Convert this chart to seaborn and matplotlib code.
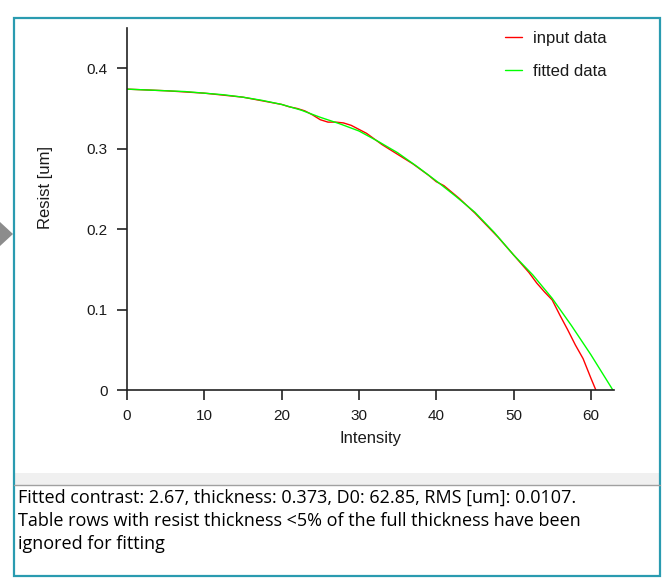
import matplotlib
matplotlib.use("Agg")
import matplotlib.pyplot as plt
import seaborn as sns
import pandas as pd
from matplotlib.patches import Rectangle, Polygon

# ── data ───────────────────────────────────────────────────────────────────
input_x = [0, 5, 10, 15, 20, 21, 22, 23, 24, 25, 26, 27, 28, 29, 30, 31, 32,
           33, 34, 35, 36, 37, 38, 39, 40, 41, 42, 43, 44, 45, 46, 47, 48, 49,
           50, 51, 52, 53, 54, 55, 56, 57, 58, 59, 60, 60.65]
input_y = [0.374, 0.372, 0.369, 0.364, 0.355, 0.352, 0.350, 0.347, 0.342,
           0.336, 0.333, 0.333, 0.332, 0.329, 0.324, 0.319, 0.312, 0.305,
           0.299, 0.293, 0.287, 0.281, 0.274, 0.267, 0.259, 0.254, 0.246,
           0.238, 0.229, 0.220, 0.210, 0.200, 0.190, 0.179, 0.168, 0.157,
           0.146, 0.133, 0.122, 0.112, 0.093, 0.075, 0.056, 0.039, 0.015, 0.0]

fitted_x = [0, 2.5, 5, 7.5, 10, 12.5, 15, 17.5, 20, 22.5, 25, 27.5, 30, 32.5,
            35, 37.5, 40, 42.5, 45, 47.5, 50, 52.5, 55, 57.5, 60, 62.85]
fitted_y = [0.374, 0.373, 0.372, 0.371, 0.369, 0.367, 0.364, 0.360, 0.355,
            0.348, 0.339, 0.331, 0.322, 0.309, 0.295, 0.278, 0.260, 0.241,
            0.221, 0.196, 0.168, 0.143, 0.114, 0.080, 0.044, 0.0]

x_ticks = [0, 10, 20, 30, 40, 50, 60]
y_ticks = [0, 0.1, 0.2, 0.3, 0.4]
y_tick_labels = ["0", "0.1", "0.2", "0.3", "0.4"]

info_text = ("Fitted contrast: 2.67, thickness: 0.373, D0: 62.85, RMS [um]: 0.0107.\n"
             "Table rows with resist thickness <5% of the full thickness have been\n"
             "ignored for fitting")

sns.set_style("white")
plt.rcParams["font.family"] = ["Liberation Sans", "DejaVu Sans"]

W, H = 665, 581
fig = plt.figure(figsize=(W / 100, H / 100), dpi=100)


def px(x0, y0, w, h):
    # pixel box (top-left origin) -> figure fraction
    return [x0 / W, 1 - (y0 + h) / H, w / W, h / H]


# ── window decoration ─────────────────────────────────────────────────────
fig.patches.append(Polygon([[0, 1 - 222 / H], [13 / W, 1 - 234 / H], [0, 1 - 246 / H]],
                           closed=True, transform=fig.transFigure,
                           facecolor="#8c8c8c", edgecolor="none"))
fig.patches.append(Rectangle((14 / W, 1 - 485 / H), 646 / W, 12 / H,
                             transform=fig.transFigure, facecolor="#f0f0f0",
                             edgecolor="none"))
fig.add_artist(plt.Line2D([14 / W, 660 / W], [1 - 485 / H, 1 - 485 / H],
                          transform=fig.transFigure, color="#a0a0a0", lw=1))
fig.patches.append(Rectangle((14 / W, 1 - 576 / H), 646 / W, 558 / H,
                             transform=fig.transFigure, facecolor="none",
                             edgecolor="#2a9bb0", lw=1.6))

# ── chart ──────────────────────────────────────────────────────────────────
ax = fig.add_axes(px(127, 28, 487, 362))
ax.set_facecolor("none")

df_in = pd.DataFrame({"x": input_x, "y": input_y})
df_fit = pd.DataFrame({"x": fitted_x, "y": fitted_y})
sns.lineplot(data=df_in, x="x", y="y", ax=ax, color="#ff0000", lw=1,
             label="input data", sort=False)
sns.lineplot(data=df_fit, x="x", y="y", ax=ax, color="#00ff00", lw=1,
             label="fitted data", sort=False)

ax.set_xlim(0, 63)
ax.set_ylim(0, 0.45)
ax.set_xticks(x_ticks)
ax.set_yticks(y_ticks)
ax.set_yticklabels(y_tick_labels)
for s in ["top", "right"]:
    ax.spines[s].set_visible(False)
for s in ["left", "bottom"]:
    ax.spines[s].set_color("#222222")
    ax.spines[s].set_linewidth(1.2)
ax.tick_params(axis="both", which="major", direction="out", length=7,
               width=1.2, color="#222222", labelsize=11, labelcolor="#1a1a1a",
               bottom=True, left=True)
ax.tick_params(axis="x", pad=7)
ax.tick_params(axis="y", pad=7)
ax.set_xlabel("Intensity", fontsize=12, color="#1a1a1a")
ax.set_ylabel("Resist [um]", fontsize=12, color="#1a1a1a")
ax.xaxis.set_label_coords(0.5, -41 / 362)
ax.yaxis.set_label_coords(-74 / 487, 0.56)

ax.legend(loc="upper right", bbox_to_anchor=(1.016, 1.033), frameon=False,
          fontsize=12, handlelength=1.0, handletextpad=0.7, labelspacing=1.05,
          labelcolor="#1a1a1a")

# ── text panel ─────────────────────────────────────────────────────────────
fig.text(18 / W, 1 - 489 / H, info_text, ha="left", va="top",
         fontsize=13.0, linespacing=1.36, color="#000000",
         family=["Open Sans", "DejaVu Sans"])

fig.savefig("out.png", dpi=100)
